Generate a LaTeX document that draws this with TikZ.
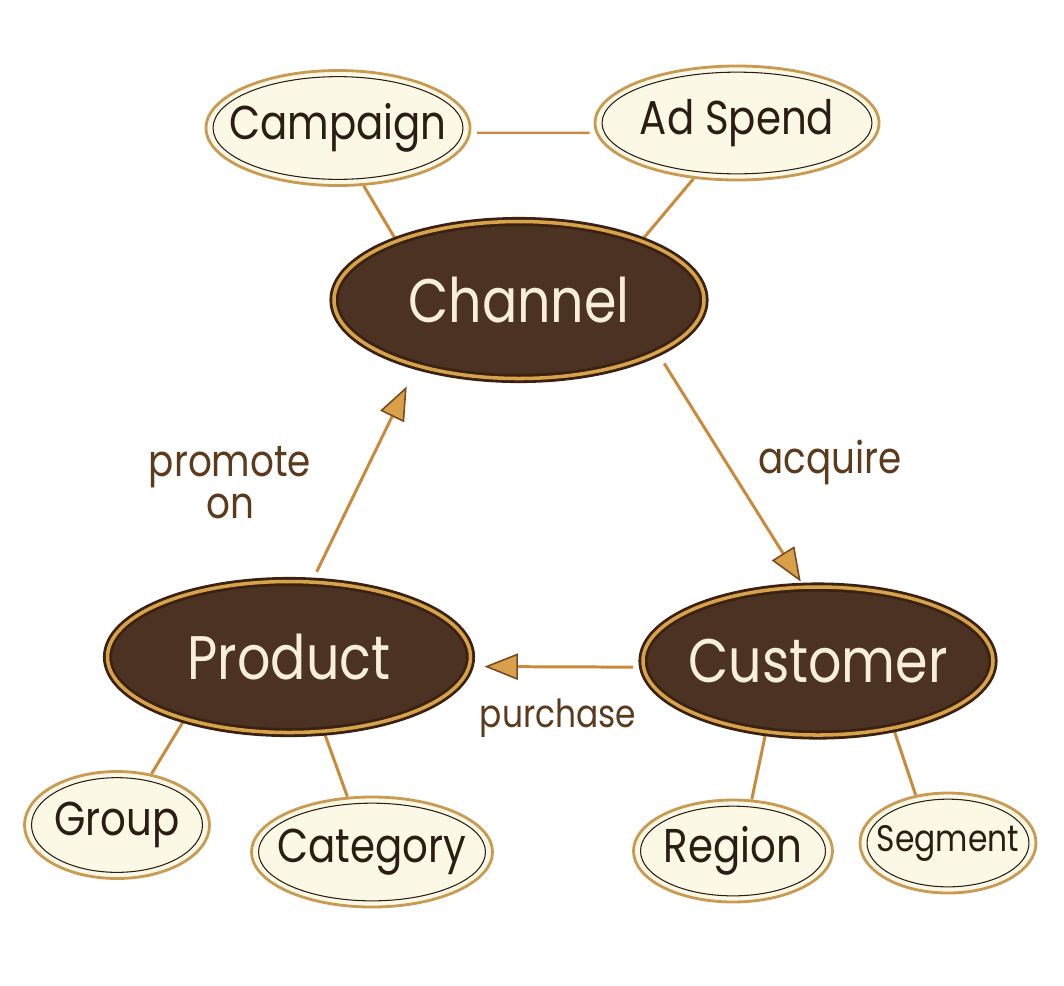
\documentclass[tikz,border=0pt]{standalone}
\usepackage{fontspec}
\setmainfont{Poppins}[FakeStretch=0.85]
\definecolor{wood}{RGB}{76,50,34}
\definecolor{rimdark}{RGB}{58,34,18}
\definecolor{rimgold}{RGB}{216,162,74}
\definecolor{woodtext}{RGB}{247,239,216}
\definecolor{attrfill}{RGB}{252,248,230}
\definecolor{attrrim}{RGB}{201,154,82}
\definecolor{attrline}{RGB}{42,30,20}
\definecolor{linkbrown}{RGB}{201,138,60}
\definecolor{tipgold}{RGB}{217,160,76}
\definecolor{tipdark}{RGB}{122,74,30}
\definecolor{verbbrown}{RGB}{92,58,28}
\usetikzlibrary{positioning,arrows.meta,backgrounds,calc,shapes.geometric}
\tikzset{%
  entity/.style={ellipse, draw=rimdark, double=rimgold, double distance=2pt,
    line width=1.6pt, fill=wood, text=woodtext, inner xsep=-14pt, inner ysep=0pt,
    font=\fontsize{35}{35}\selectfont},% main entity
  attribute/.style={ellipse, draw=attrrim, line width=1.6pt, fill=attrfill,
    text=attrline, inner xsep=-10pt, inner ysep=0pt,
    font=\fontsize{27}{27}\selectfont,
    path picture={\draw[attrline, line width=0.6pt]
      let \p1=(path picture bounding box.north east),
          \p2=(path picture bounding box.center) in
      (\p2) ellipse ({\x1-\x2-4pt} and {\y1-\y2-3.5pt});}},% attribute
  link/.style={draw=linkbrown, line width=1.7pt},% plain connector
  relation/.style={link, -{Triangle[length=19pt, width=15pt, color=tipdark,
    fill=tipgold, line width=0.9pt]}},% relationship arrow
  verb/.style={text=verbbrown, font=\fontsize{25}{24}\selectfont, align=center}% relationship label
}

\begin{document}
\begin{tikzpicture}[x=0.2mm, y=-0.2mm]
\useasboundingbox (0,0) rectangle (1064,985);

% entities
\node[entity, minimum width=74mm, minimum height=31.4mm] (channel) at (519,300) {Channel};
\node[entity, minimum width=72.6mm, minimum height=30.2mm] (product) at (289,657) {Product};
\node[entity, minimum width=70mm, minimum height=29.6mm] (customer) at (818,661) {Customer};

% attributes
\node[attribute, minimum width=52.8mm, minimum height=23mm] (campaign) at (338,128) {Campaign};
\node[attribute, minimum width=56.8mm, minimum height=22.8mm] (adspend) at (737,123) {Ad Spend};
\node[attribute, minimum width=37mm, minimum height=21.4mm] (group) at (117,825) {Group};
\node[attribute, minimum width=48.2mm, minimum height=22mm] (category) at (372,852) {Category};
\node[attribute, minimum width=39.8mm, minimum height=20.4mm] (region) at (733,851) {Region};
\node[attribute, minimum width=35.2mm, minimum height=20mm,
  font=\fontsize{21}{21}\selectfont] (segment) at (948,843) {Segment};

% relationship labels
\node[verb] (acquire) at (830,462) {acquire};
\node[verb, font=\fontsize{22}{22}\selectfont] (purchase) at (558,718) {purchase};
\node[verb] (promote) at (230,483) {promote\\on};

\begin{scope}[on background layer]
\draw[link] (campaign.-66) -- (channel.154);
\draw[link] (adspend.232) -- (channel.26);
\draw[link, line width=1.3pt, shorten <=1.2mm, shorten >=1.2mm] (campaign.-2) -- (adspend.184);
\draw[link] (product.211) -- (group.56);
\draw[link] (product.-65) -- (category.114);
\draw[link] (customer.234) -- (region.70);
\draw[link] (customer.-42) -- (segment.124);

\draw[relation, shorten <=2.4mm, shorten >=1mm] (channel.-21) -- (customer.101);
\draw[relation, shorten <=1.8mm, shorten >=2.8mm] (customer.182) -- (product.-3);
\draw[relation, shorten <=2mm, shorten >=4.4mm] (product.73) -- (channel.213);
\end{scope}
\end{tikzpicture}
\end{document}
